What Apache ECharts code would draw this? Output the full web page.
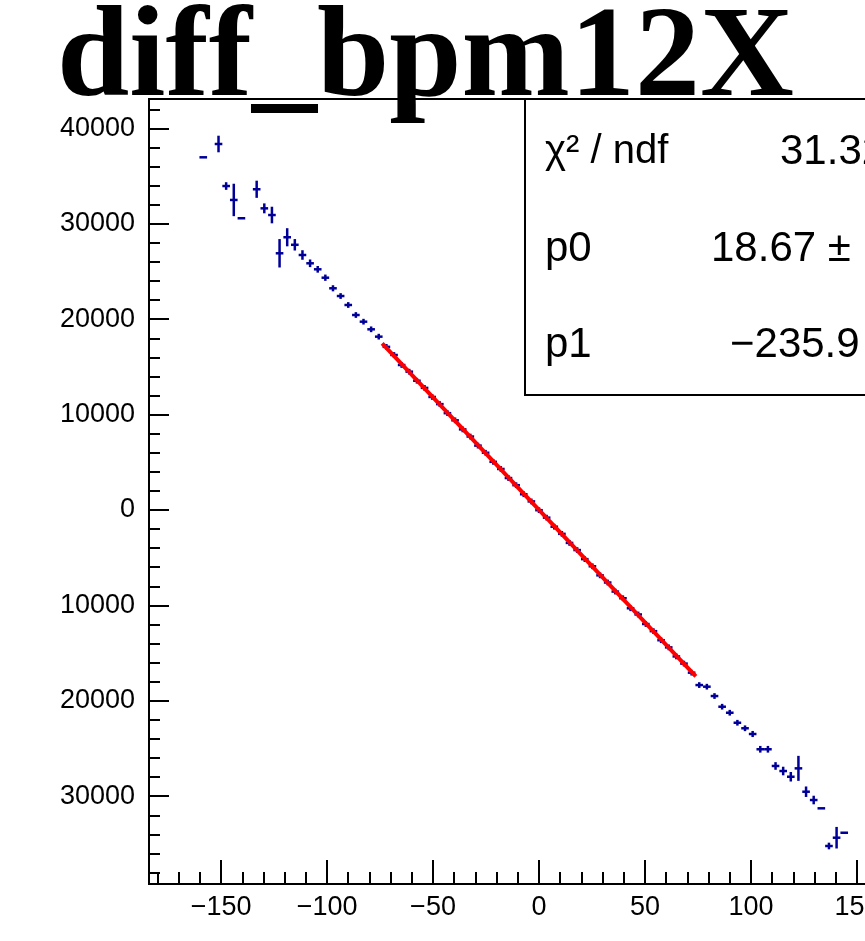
<!DOCTYPE html>
<html><head><meta charset="utf-8">
<script src="https://cdn.jsdelivr.net/npm/echarts@6/dist/echarts.min.js"></script>
<style>html,body{margin:0;padding:0;background:#fff;overflow:hidden;width:865px;height:941px}#c{width:940px;height:941px}</style>
</head><body><div id="c"></div>
<script>
// bin centres (x), profile means (y) and errors
const binX = [-158.4,-151.2,-147.6,-144.0,-140.4,-133.2,-129.6,-126.0,-122.4,-118.8,-115.2,-111.6,-108.0,-104.4,-100.8,-97.2,-93.6,-90.0,-86.4,-82.8,-79.2,-75.6,
  -72.0,-68.4,-64.8,-61.2,-57.6,-54.0,-50.4,-46.8,-43.2,-39.6,-36.0,-32.4,-28.8,-25.2,-21.6,-18.0,-14.4,-10.8,-7.2,-3.6,0.0,
  3.6,7.2,10.8,14.4,18.0,21.6,25.2,28.8,32.4,36.0,39.6,43.2,46.8,50.4,54.0,57.6,61.2,64.8,68.4,72.0,
  75.6,79.2,82.8,86.4,90.0,93.6,97.2,100.8,104.4,108.0,111.6,115.2,118.8,122.4,126.0,129.6,133.2,136.8,140.4,144.0];
const binY = [36970,38365,33960,32500,30580,33620,31620,30920,26910,28590,27800,26730,25860,25230,24350,23240,22430,21490,20440,19740,18940,18170,
  17100,16250,15200,14500,13550,12800,11850,11100,10150,9400,8450,7700,6750,6000,5050,4300,3350,2600,1650,900,-20,
  -800,-1750,-2500,-3450,-4200,-5150,-5900,-6850,-7600,-8550,-9250,-10300,-10950,-11950,-12700,-13650,-14400,-15350,-16100,-17050,
  -18350,-18520,-19500,-20620,-21250,-22300,-22880,-23480,-25080,-25080,-26830,-27360,-27960,-27080,-29530,-30400,-31270,-35220,-34350,-33830];
const binErr = [0,870,400,1700,0,900,520,870,1490,950,600,500,400,350,330,320,300,300,300,300,300,300,
  300,300,300,300,300,300,300,300,300,300,300,300,300,300,300,300,300,300,300,300,300,
  300,300,300,300,300,300,300,300,300,300,300,300,300,300,300,300,300,300,300,300,
  300,300,300,300,300,300,300,320,350,350,400,450,500,1310,550,450,0,350,1130,0];
const binHalfWidth = 1.8;
const fitX = [-74, 74];
const fitY = [17475, -17438];
const titleText = 'diff_bpm12X';
const statLabels = ['χ² / ndf', 'p0', 'p1'];
const statValues = ['31.32', '18.67 ±', '\u2212235.9'];

const chart = echarts.init(document.getElementById('c'), null, {renderer: 'canvas'});
const pts = binX.map((x, i) => [x, binY[i], binErr[i]]);
const fitData = fitX.map((x, i) => [x, fitY[i]]);
const lab = {fontFamily: 'Liberation Sans', fontSize: 27, color: '#000'};
chart.setOption({
  animation: false,
  backgroundColor: '#fff',
  grid: {left: 149, top: 99, width: 780, height: 785, show: true, borderColor: '#000', borderWidth: 2, backgroundColor: 'transparent'},
  xAxis: {
    type: 'value', min: -184, max: 184, splitNumber: 7,
    axisLine: {show: true, onZero: false, lineStyle: {color: '#000', width: 2}},
    axisTick: {show: true, inside: true, length: 24, lineStyle: {color: '#000', width: 2}},
    minorTick: {show: true, splitNumber: 5, length: 12, lineStyle: {color: '#000', width: 2}},
    splitLine: {show: false},
    axisLabel: Object.assign({margin: 10, showMinLabel: false, showMaxLabel: false,
      formatter: v => String(v).replace('-', '\u2212')}, lab)
  },
  yAxis: {
    type: 'value', min: -39203, max: 43082, splitNumber: 8,
    axisLine: {show: true, onZero: false, lineStyle: {color: '#000', width: 2}},
    axisTick: {show: true, inside: true, length: 20, lineStyle: {color: '#000', width: 2}},
    minorTick: {show: true, splitNumber: 5, length: 11, lineStyle: {color: '#000', width: 2}},
    splitLine: {show: false},
    axisLabel: Object.assign({margin: 14, showMinLabel: false, showMaxLabel: false,
      formatter: v => String(Math.abs(v))}, lab)
  },
  series: [
    {
      type: 'custom', data: pts, z: 3, clip: true,
      renderItem: function (params, api) {
        const x = api.value(0), y = api.value(1), e = api.value(2);
        const pL = api.coord([x - binHalfWidth, y]);
        const pR = api.coord([x + binHalfWidth, y]);
        const st = {stroke: '#000099', lineWidth: 2.5};
        const ch = [{type: 'line', shape: {x1: pL[0], y1: pL[1], x2: pR[0], y2: pR[1]}, style: st}];
        if (e > 0) {
          const pT = api.coord([x, y + e]);
          const pB = api.coord([x, y - e]);
          ch.push({type: 'line', shape: {x1: pT[0], y1: pT[1], x2: pB[0], y2: pB[1]}, style: st});
        }
        return {type: 'group', children: ch};
      }
    },
    {
      type: 'line', data: fitData, z: 4, symbol: 'none', silent: true,
      lineStyle: {color: '#ff0000', width: 4}
    }
  ],
  graphic: [
    {type: 'rect', z: 50, shape: {x: 525, y: 99, width: 420, height: 296},
      style: {fill: '#fff', stroke: '#000', lineWidth: 2}},
    {type: 'text', z: 51, x: 545, y: 152, style: {text: statLabels[0], font: '40px "Liberation Sans"', fill: '#000', verticalAlign: 'middle'}},
    {type: 'text', z: 51, x: 545, y: 249, style: {text: statLabels[1], font: '42px "Liberation Sans"', fill: '#000', verticalAlign: 'middle'}},
    {type: 'text', z: 51, x: 545, y: 345, style: {text: statLabels[2], font: '42px "Liberation Sans"', fill: '#000', verticalAlign: 'middle'}},
    {type: 'text', z: 51, x: 780, y: 152, style: {text: statValues[0], font: '42px "Liberation Sans"', fill: '#000', verticalAlign: 'middle'}},
    {type: 'text', z: 51, x: 711, y: 249, style: {text: statValues[1], font: '42px "Liberation Sans"', fill: '#000', verticalAlign: 'middle'}},
    {type: 'text', z: 51, x: 730, y: 345, style: {text: statValues[2], font: '42px "Liberation Sans"', fill: '#000', verticalAlign: 'middle'}},
    {type: 'text', z: 60, x: 57, y: 61, style: {text: titleText, font: 'bold 130px "Liberation Serif"', fill: '#000', verticalAlign: 'middle'}}
  ]
});
</script></body></html>
